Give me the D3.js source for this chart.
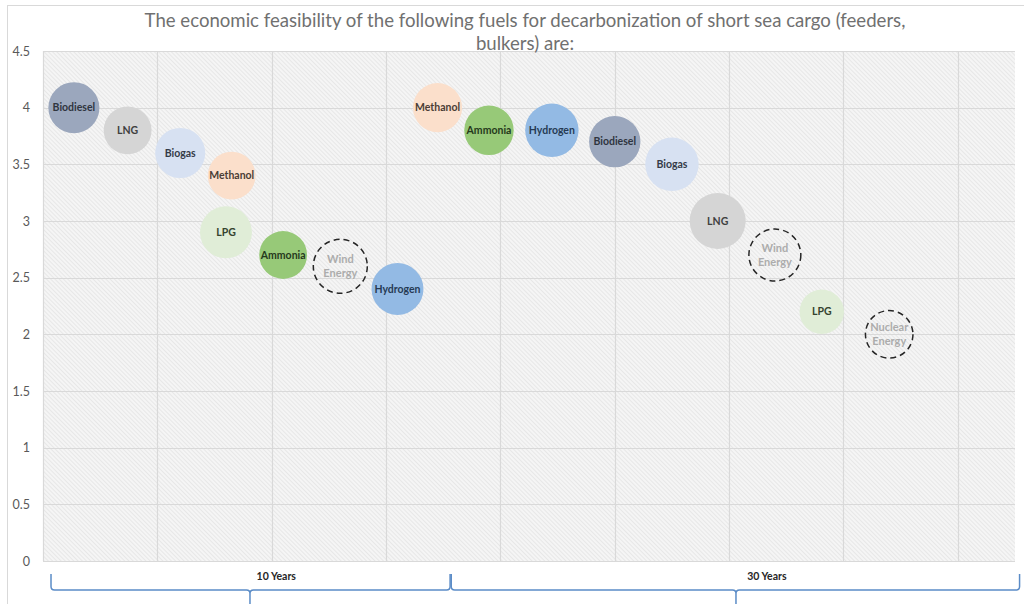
<!DOCTYPE html>
<html>
<head>
<meta charset="utf-8">
<script src="https://cdn.jsdelivr.net/npm/d3@7"></script>
<style>
  html, body { margin: 0; padding: 0; background: #fff; }
  svg { display: block; }
</style>
</head>
<body>
<svg id="chart" width="1024" height="604"></svg>
<script>
// Fuels assessed over a 10-year horizon
const fuels10 = ["Biodiesel", "LNG", "Biogas", "Methanol", "LPG", "Ammonia", "Wind Energy", "Hydrogen"];
const xPos10  = [0.27, 0.74, 1.20, 1.65, 1.60, 2.10, 2.60, 3.10];
const score10 = [4.0, 3.8, 3.6, 3.4, 2.9, 2.7, 2.6, 2.4];
const size10  = [8.3, 7.3, 8.0, 7.3, 8.6, 7.3, 9.3, 8.6];

// Fuels assessed over a 30-year horizon
const fuels30 = ["Methanol", "Ammonia", "Hydrogen", "Biodiesel", "Biogas", "LNG", "Wind Energy", "LPG", "Nuclear Energy"];
const xPos30  = [3.45, 3.90, 4.45, 5.00, 5.50, 5.90, 6.40, 6.81, 7.40];
const score30 = [4.0, 3.8, 3.8, 3.7, 3.5, 3.0, 2.7, 2.2, 2.0];
const size30  = [7.7, 7.8, 9.1, 8.4, 9.1, 10.0, 8.6, 6.3, 7.2];

// Horizon groups shown under the plot
const groupLabels = ["10 Years", "30 Years"];
const groupStart  = [0.07, 3.57];
const groupEnd    = [3.56, 8.54];
const groupCusp   = [1.81, 6.06];
const groupText   = [2.04, 6.33];

const yTicks = [0, 0.5, 1, 1.5, 2, 2.5, 3, 3.5, 4, 4.5];
const xGrid  = [0, 1, 2, 3, 4, 5, 6, 7, 8];

const titleLines = [
  "The economic feasibility of the following fuels for decarbonization of short sea cargo (feeders,",
  "bulkers) are:"
];

// Fill / label colours per fuel; renewable options are drawn as dashed outlines
const fuelFill = {
  "Biodiesel": "#9ba7bd",
  "LNG": "#d5d5d5",
  "Biogas": "#d7e1f2",
  "Methanol": "#fbdfcb",
  "LPG": "#e0edd7",
  "Ammonia": "#97c978",
  "Hydrogen": "#93bae4"
};
const fuelText = {
  "Biodiesel": "#2f3540",
  "LNG": "#404040",
  "Biogas": "#343b48",
  "Methanol": "#4a3d35",
  "LPG": "#35432f",
  "Ammonia": "#25391c",
  "Hydrogen": "#263a54"
};

const svg = d3.select("#chart");
const W = 1024, H = 604;

const x = d3.scaleLinear().domain([0, 8.5]).range([43, 1015]);
const y = d3.scaleLinear().domain([0, 4.5]).range([561, 51]);
const r = d3.scaleSqrt().domain([0, 10]).range([0, 28]);

const font = "Lato, 'Open Sans', sans-serif";

// hatched plot background
const defs = svg.append("defs");
const pat = defs.append("pattern")
  .attr("id", "hatch")
  .attr("patternUnits", "userSpaceOnUse")
  .attr("width", 3).attr("height", 10)
  .attr("patternTransform", "rotate(-45)");
pat.append("rect").attr("width", 3).attr("height", 10).attr("fill", "#f5f5f5");
pat.append("line").attr("x1", 0.5).attr("x2", 0.5).attr("y1", 0).attr("y2", 10)
  .attr("stroke", "#e7e7e7").attr("stroke-width", 1);

// outer chart frame
svg.append("rect")
  .attr("x", 7.5).attr("y", 5.5).attr("width", W + 10).attr("height", H + 10)
  .attr("fill", "#fff").attr("stroke", "#d9d9d9").attr("stroke-width", 1);

// plot area
svg.append("rect")
  .attr("x", x(0)).attr("y", y(4.5))
  .attr("width", x(8.5) - x(0)).attr("height", y(0) - y(4.5))
  .attr("fill", "url(#hatch)");

// gridlines
svg.append("g").selectAll("line.h").data(yTicks).join("line")
  .attr("x1", x(0)).attr("x2", x(8.5))
  .attr("y1", d => Math.round(y(d)) + 0.5).attr("y2", d => Math.round(y(d)) + 0.5)
  .attr("stroke", "#d9d9d9").attr("stroke-width", 1.2);
svg.append("g").selectAll("line.v").data(xGrid).join("line")
  .attr("x1", d => Math.round(x(d)) + 0.5).attr("x2", d => Math.round(x(d)) + 0.5)
  .attr("y1", y(4.5)).attr("y2", y(0))
  .attr("stroke", "#d9d9d9").attr("stroke-width", 1.2);

// y axis labels
const yAxis = svg.append("g")
  .attr("transform", `translate(${x(0)},0)`)
  .call(d3.axisLeft(y).tickValues(yTicks).tickFormat(d => String(d)).tickSize(0).tickPadding(13));
yAxis.select(".domain").remove();
yAxis.selectAll("text")
  .attr("fill", "#595959")
  .style("font-family", font)
  .style("font-size", "12.5px");

// title
svg.append("g").selectAll("text").data(titleLines).join("text")
  .attr("x", 525).attr("y", (d, i) => 27 + i * 23)
  .attr("text-anchor", "middle")
  .attr("fill", "#707070")
  .style("font-family", font)
  .style("font-size", "18.6px")
  .text(d => d);

// bubbles
const bubbles = [];
fuels10.forEach((f, i) => bubbles.push({ fuel: f, x: xPos10[i], y: score10[i], s: size10[i] }));
fuels30.forEach((f, i) => bubbles.push({ fuel: f, x: xPos30[i], y: score30[i], s: size30[i] }));

const isOutline = d => !(d.fuel in fuelFill);

const g = svg.append("g");
const node = g.selectAll("g.bubble").data(bubbles).join("g")
  .attr("class", "bubble")
  .attr("transform", d => `translate(${x(d.x)},${y(d.y)})`);

node.append("circle")
  .attr("r", d => r(d.s))
  .attr("fill", d => isOutline(d) ? "none" : fuelFill[d.fuel])
  .attr("stroke", d => isOutline(d) ? "#262626" : "none")
  .attr("stroke-width", 1.5)
  .attr("stroke-dasharray", d => isOutline(d) ? "6,4" : null);

node.each(function (d) {
  const words = isOutline(d) ? d.fuel.split(" ") : [d.fuel];
  const t = d3.select(this).append("text")
    .attr("text-anchor", "middle")
    .attr("fill", isOutline(d) ? "#acacac" : fuelText[d.fuel])
    .style("font-family", font)
    .style("font-weight", "700")
    .style("font-size", isOutline(d) ? "11px" : "10.5px");
  words.forEach((w, k) => {
    t.append("tspan")
      .attr("x", 0)
      .attr("y", (k - (words.length - 1) / 2) * 14)
      .attr("dy", "0.35em")
      .text(w);
  });
});

// horizon braces under the axis
const braceTop = 574, braceLine = 590, braceBottom = 612, rr = 3.5;
groupLabels.forEach((lab, i) => {
  const x0 = x(groupStart[i]), x1 = x(groupEnd[i]), xc = x(groupCusp[i]);
  const p = d3.path();
  p.moveTo(x0, braceTop);
  p.lineTo(x0, braceLine - rr);
  p.quadraticCurveTo(x0, braceLine, x0 + rr, braceLine);
  p.lineTo(xc - rr, braceLine);
  p.quadraticCurveTo(xc, braceLine, xc, braceLine + rr);
  p.lineTo(xc, braceBottom);
  p.moveTo(x1, braceTop);
  p.lineTo(x1, braceLine - rr);
  p.quadraticCurveTo(x1, braceLine, x1 - rr, braceLine);
  p.lineTo(xc + rr, braceLine);
  p.quadraticCurveTo(xc, braceLine, xc, braceLine + rr);
  svg.append("path")
    .attr("d", p.toString())
    .attr("fill", "none")
    .attr("stroke", "#5b8cc7")
    .attr("stroke-width", 1.5);
  svg.append("text")
    .attr("x", x(groupText[i])).attr("y", 576)
    .attr("dy", "0.35em")
    .attr("text-anchor", "middle")
    .attr("fill", "#262626")
    .style("font-family", font)
    .style("font-weight", "700")
    .style("font-size", "10.5px")
    .text(lab);
});
</script>
</body>
</html>
